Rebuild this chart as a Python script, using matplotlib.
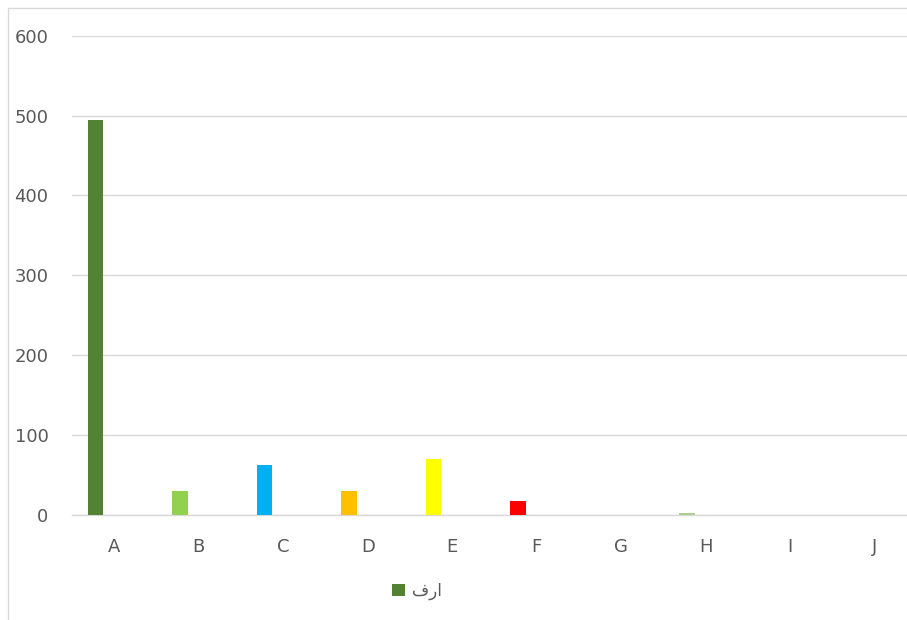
import matplotlib
matplotlib.use("Agg")
import matplotlib.pyplot as plt
from matplotlib.patches import Patch, Rectangle

categories = ["A", "B", "C", "D", "E", "F", "G", "H", "I", "J"]
values = [494, 29, 62, 29, 70, 17, 0, 2, 0, 0]
colors = ["#548235", "#92D050", "#00B0F0", "#FFC000", "#FFFF00",
          "#FF0000", "#A9D18E", "#A9D18E", "#A9D18E", "#A9D18E"]
series_name = "فرا"
yticks = [0, 100, 200, 300, 400, 500, 600]

plt.rcParams['font.family'] = ['DejaVu Sans']

W, H = 907, 620
fig = plt.figure(figsize=(W / 100, H / 100), dpi=100)

# chart outer border (cropped at right/bottom)
fig.patches.append(Rectangle((8 / W, -0.1), 1.2, 1 - 8 / H + 0.1,
                             transform=fig.transFigure, fill=False,
                             edgecolor="#D9D9D9", linewidth=1.0))

left = 72 / W
bottom = 1 - 514.5 / H
top = 1 - 35.9 / H
ax = fig.add_axes([left, bottom, 845 / W, top - bottom])

x = list(range(len(categories)))
xpos = [i - 0.222 for i in x]
ax.bar(xpos, values, width=0.178, color=colors, zorder=3)

ax.set_xlim(-0.5, len(categories) - 0.5)
ax.set_ylim(0, 600)
ax.set_yticks(yticks)
ax.set_xticks(x)
ax.set_xticklabels(categories)
ax.grid(axis="y", color="#D9D9D9", linewidth=1.0, zorder=0)
for s in ["top", "right", "left"]:
    ax.spines[s].set_visible(False)
ax.spines["bottom"].set_color("#D9D9D9")
ax.spines["bottom"].set_linewidth(1.0)
ax.tick_params(axis="both", length=0, labelsize=13, colors="#595959")
ax.tick_params(axis="y", pad=17)
ax.tick_params(axis="x", pad=17)

fig.legend(handles=[Patch(facecolor="#548235", edgecolor="none", label=series_name)],
           loc="center", bbox_to_anchor=(417 / W, 1 - 591 / H), frameon=False,
           fontsize=12, labelcolor="#595959", handlelength=0.8, handleheight=0.8,
           handletextpad=0.4)

fig.savefig("out.png", dpi=100)
